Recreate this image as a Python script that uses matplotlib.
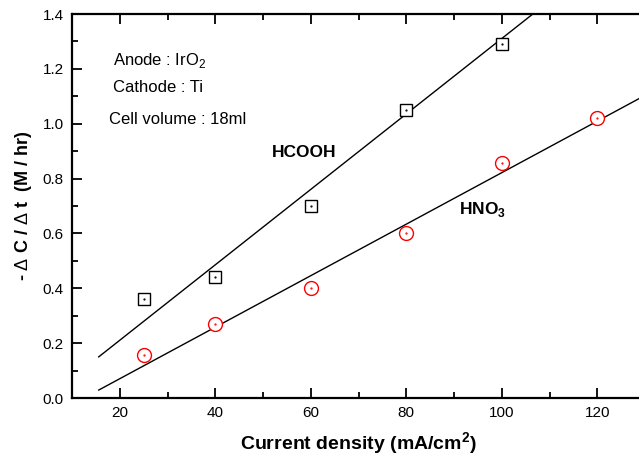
import matplotlib
matplotlib.use("Agg")
import matplotlib.pyplot as plt
import numpy as np
from matplotlib.ticker import MultipleLocator

plt.rcParams['font.family'] = ['Liberation Sans', 'DejaVu Sans']
plt.rcParams['mathtext.fontset'] = 'custom'
plt.rcParams['mathtext.rm'] = 'Liberation Sans'
plt.rcParams['mathtext.bf'] = 'Liberation Sans:bold'

# data
hcooh_x = [25, 40, 60, 80, 100]
hcooh_y = [0.36, 0.44, 0.70, 1.05, 1.29]
hno3_x = [25, 40, 60, 80, 100, 120]
hno3_y = [0.155, 0.27, 0.40, 0.60, 0.855, 1.02]

# fitted lines (slope, intercept) and x range
hcooh_fit = (0.01375, -0.0645)
hno3_fit = (0.00939, -0.1175)
fit_x_range = [15.6, 130]

x_ticks = [20, 40, 60, 80, 100, 120]
y_ticks = [0.0, 0.2, 0.4, 0.6, 0.8, 1.0, 1.2, 1.4]

W, H = 639, 459
fig = plt.figure(figsize=(W/100, H/100), dpi=100)
left, right, top, bottom = 72, 645, 14, 398
ax = fig.add_axes([left/W, 1-bottom/H, (right-left)/W, (bottom-top)/H])
ax.set_xlim(10, 130)
ax.set_ylim(0, 1.4)

fx = np.array(fit_x_range)
ax.plot(fx, hcooh_fit[0]*fx + hcooh_fit[1], color='black', lw=1.0)
ax.plot(fx, hno3_fit[0]*fx + hno3_fit[1], color='black', lw=1.0)

ax.plot(hcooh_x, hcooh_y, ls='none', marker='s', ms=8.5, mfc='white', mec='black', mew=1.0)
ax.plot(hcooh_x, hcooh_y, ls='none', marker='.', ms=1.2, color='black')
ax.plot(hno3_x, hno3_y, ls='none', marker='o', ms=10, mfc='white', mec='red', mew=1.0)
ax.plot(hno3_x, hno3_y, ls='none', marker='.', ms=1.2, color='red')

ax.set_xticks(x_ticks)
ax.set_yticks(y_ticks)
ax.set_yticklabels([f"{v:.1f}" for v in y_ticks])
ax.xaxis.set_minor_locator(MultipleLocator(10))
ax.yaxis.set_minor_locator(MultipleLocator(0.1))
ax.tick_params(which='both', direction='in', top=True, right=False, labelsize=11, width=1.3, pad=6)
ax.tick_params(which='major', length=7)
ax.tick_params(which='minor', length=4)
for s in ['left', 'bottom', 'top']:
    ax.spines[s].set_linewidth(1.6)
ax.spines['right'].set_visible(False)

ax.set_xlabel(r'Current density (mA/cm$^\mathbf{2}$)', fontsize=14, fontweight='bold', labelpad=7)
ax.set_ylabel(r'- $\Delta$ C / $\Delta$ t  (M / hr)', fontsize=13, fontweight='bold', labelpad=6)


def ptext(px, py, s, **kw):
    fig.text(px/W, 1-py/H, s, va='center', ha='left', **kw)


ptext(113, 61, r'Anode : IrO$_\mathregular{2}$', fontsize=12)
ptext(113, 88, 'Cathode : Ti', fontsize=12)
ptext(109, 120, 'Cell volume : 18ml', fontsize=12)
ptext(272, 153, 'HCOOH', fontsize=12.5, fontweight='bold')
ptext(459, 210, r'HNO$_\mathbf{3}$', fontsize=12.5, fontweight='bold')

fig.savefig('out.png', dpi=100)
